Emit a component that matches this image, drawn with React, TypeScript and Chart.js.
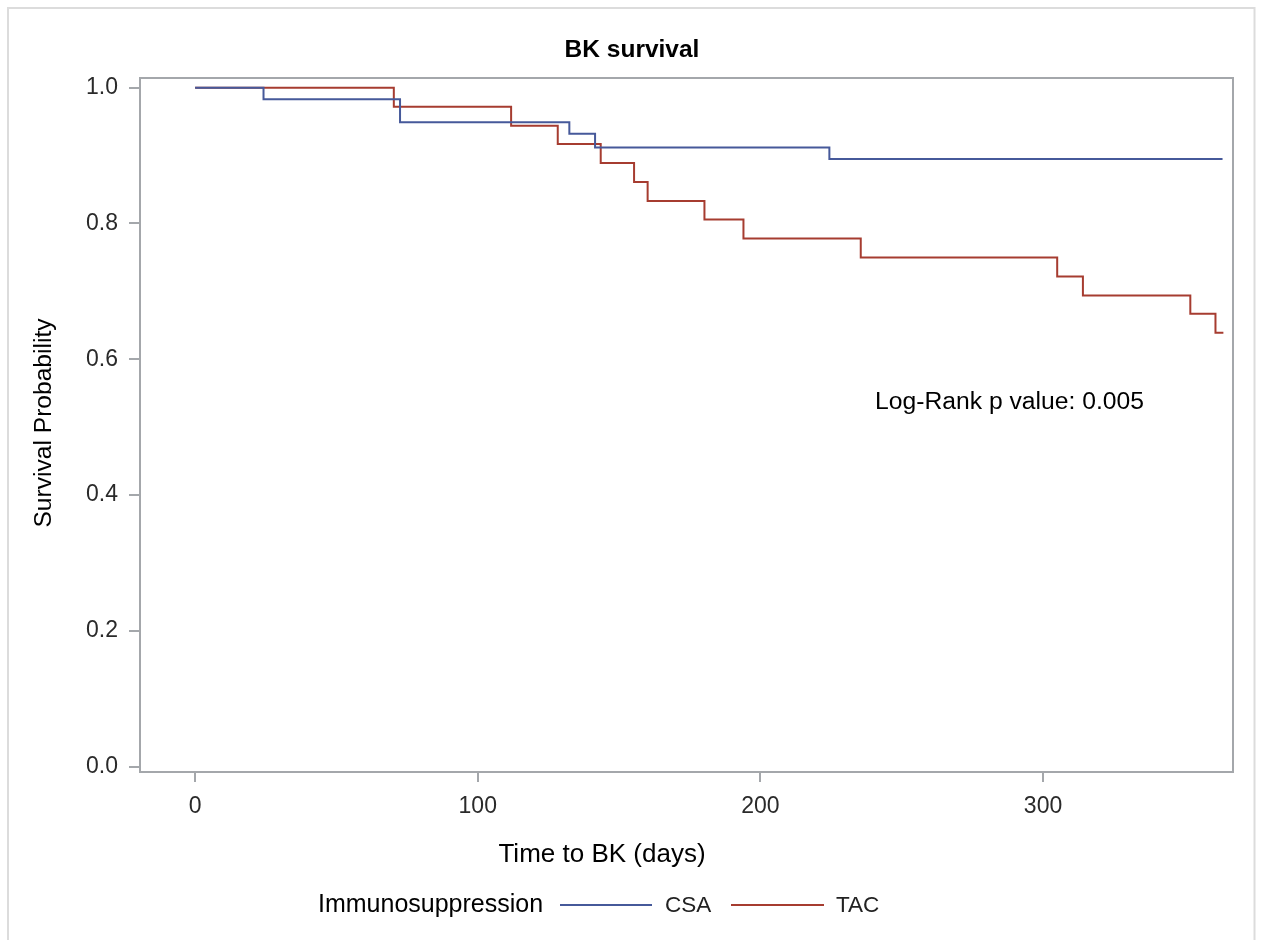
import React, { useEffect, useRef } from "react";
import { Chart, registerables } from "chart.js";

Chart.register(...registerables);

// ---- Data ----
const csaTimes = [0, 24.2, 72.5, 132.4, 141.5, 224.4, 363.5];
const csaSurvival = [1.0, 0.983, 0.949, 0.932, 0.912, 0.895, 0.895];

const tacTimes = [0, 70.3, 111.8, 128.3, 143.5, 155.3, 160.1, 180.2, 194.0, 235.5, 305.0, 314.1, 352.1, 361.0, 363.8];
const tacSurvival = [1.0, 0.972, 0.944, 0.917, 0.889, 0.861, 0.833, 0.806, 0.778, 0.75, 0.722, 0.694, 0.667, 0.639, 0.639];

const xTicks = [0, 100, 200, 300];
const yTicks = [0.0, 0.2, 0.4, 0.6, 0.8, 1.0];

const seriesNames = ["CSA", "TAC"];
const titleText = "BK survival";
const xTitle = "Time to BK (days)";
const yTitle = "Survival Probability";
const legendTitle = "Immunosuppression";
const annotationText = "Log-Rank p value: 0.005";

const BLUE = "#46599a";
const RED = "#A63C30";
const AXIS = "#a4a7ab";
const FONT = "'Liberation Sans', Arial, sans-serif";

const overlay = {
  id: "overlay",
  afterDraw(chart: any) {
    const ctx = chart.ctx as CanvasRenderingContext2D;
    const a = chart.chartArea;
    ctx.save();
    // outer frame
    ctx.strokeStyle = "#dcdcdc";
    ctx.lineWidth = 2;
    ctx.strokeRect(8, 8, 1246.5, 960);
    // plot frame
    ctx.strokeStyle = AXIS;
    ctx.lineWidth = 2;
    ctx.strokeRect(a.left, a.top, a.right - a.left, a.bottom - a.top);

    ctx.fillStyle = "#000";
    ctx.textBaseline = "alphabetic";
    // title
    ctx.font = `bold 24.5px ${FONT}`;
    ctx.textAlign = "center";
    ctx.fillText(titleText, 632, 57);
    // x title
    ctx.font = `26px ${FONT}`;
    ctx.fillText(xTitle, 602, 862);
    // y title
    ctx.font = `24.6px ${FONT}`;
    ctx.save();
    ctx.translate(51, 423);
    ctx.rotate(-Math.PI / 2);
    ctx.fillText(yTitle, 0, 0);
    ctx.restore();
    // annotation
    ctx.font = `24.7px ${FONT}`;
    ctx.textAlign = "left";
    ctx.fillText(annotationText, 875, 409);
    // legend
    ctx.font = `25px ${FONT}`;
    ctx.fillText(legendTitle, 318, 912);
    ctx.font = `22.5px ${FONT}`;
    ctx.fillStyle = "#222";
    ctx.lineWidth = 2;
    ctx.strokeStyle = BLUE;
    ctx.beginPath();
    ctx.moveTo(560, 905);
    ctx.lineTo(652, 905);
    ctx.stroke();
    ctx.fillText(seriesNames[0], 665, 912);
    ctx.strokeStyle = RED;
    ctx.beginPath();
    ctx.moveTo(731, 905);
    ctx.lineTo(824, 905);
    ctx.stroke();
    ctx.fillText(seriesNames[1], 836, 912);
    ctx.restore();
  },
};

export default function App() {
  const ref = useRef<HTMLCanvasElement | null>(null);

  useEffect(() => {
    if (!ref.current) return;
    const chart = new Chart(ref.current, {
      type: "line",
      data: {
        datasets: [
          {
            label: seriesNames[0],
            data: csaTimes.map((t, i) => ({ x: t, y: csaSurvival[i] })),
            borderColor: BLUE,
            borderWidth: 2,
            pointRadius: 0,
            stepped: true,
            fill: false,
          },
          {
            label: seriesNames[1],
            data: tacTimes.map((t, i) => ({ x: t, y: tacSurvival[i] })),
            borderColor: RED,
            borderWidth: 2,
            pointRadius: 0,
            stepped: true,
            fill: false,
          },
        ],
      },
      options: {
        responsive: false,
        animation: false,
        events: [],
        layout: { padding: { left: 80, top: 78, right: 30, bottom: 108 } },
        plugins: {
          legend: { display: false },
          title: { display: false },
          tooltip: { enabled: false },
        },
        scales: {
          x: {
            type: "linear",
            min: -19.5,
            max: 367.2,
            afterBuildTicks: (s: any) => {
              s.ticks = xTicks.map((v) => ({ value: v }));
            },
            afterFit: (s: any) => {
              s.height = 60;
            },
            ticks: {
              font: { family: FONT, size: 23 },
              color: "#2a2a2a",
              padding: 11,
              maxRotation: 0,
              autoSkip: false,
              callback: (v: any) => String(v),
            },
            grid: { drawOnChartArea: false, drawTicks: true, tickLength: 10, color: AXIS, lineWidth: 2 },
            border: { display: false },
          },
          y: {
            type: "linear",
            min: -0.008,
            max: 1.0143,
            afterBuildTicks: (s: any) => {
              s.ticks = yTicks.map((v) => ({ value: v }));
            },
            afterFit: (s: any) => {
              s.width = 60;
            },
            ticks: {
              font: { family: FONT, size: 23 },
              color: "#2a2a2a",
              padding: 11,
              autoSkip: false,
              callback: (v: any) => Number(v).toFixed(1),
            },
            grid: { drawOnChartArea: false, drawTicks: true, tickLength: 11, color: AXIS, lineWidth: 2 },
            border: { display: false },
          },
        },
      },
      plugins: [overlay],
    });
    return () => chart.destroy();
  }, []);

  return (
    <div style={{ position: "absolute", left: 0, top: 0, width: 1263, height: 940, background: "#fff" }}>
      <canvas ref={ref} width={1263} height={940} style={{ width: 1263, height: 940, display: "block" }} />
    </div>
  );
}
